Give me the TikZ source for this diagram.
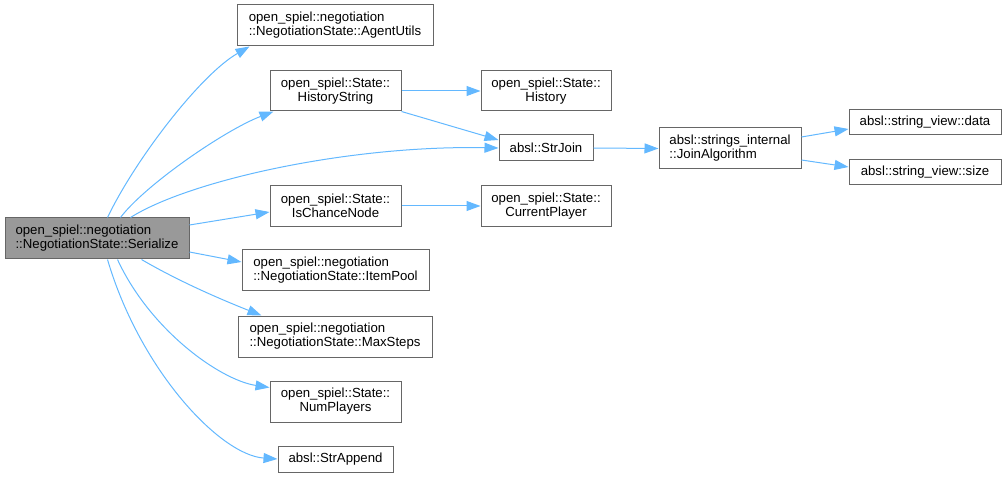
\documentclass[tikz,border=0pt]{standalone}
\usepackage{fontspec}
\setmainfont{Liberation Sans}
\usetikzlibrary{arrows.meta}
\definecolor{edgeblue}{HTML}{63B8FF}
\definecolor{boxgray}{HTML}{666666}
\definecolor{fillgray}{HTML}{999999}
\begin{document}
\begin{tikzpicture}[x=1pt,y=1pt,
  box/.style={draw=boxgray, line width=1pt, fill=white, inner sep=0pt, font=\fontsize{13.2}{14}\selectfont, text=black},
  boxl/.style={box, align=left},
  boxc/.style={box, align=center},
  edge/.style={draw=edgeblue, line width=1pt, -{Triangle[length=14pt,width=10pt]}}]
\useasboundingbox (0,0) rectangle (1006,477);
% nodes
\node[boxl, fill=fillgray, minimum width=184pt, minimum height=41pt] (ser) at (97,238.5) {open\_spiel::negotiation\\::NegotiationState::Serialize};
\node[boxl, minimum width=196pt, minimum height=41pt] (agent) at (335,451.5) {open\_spiel::negotiation\\::NegotiationState::AgentUtils};
\node[boxc, minimum width=131pt, minimum height=40pt] (hist) at (335.5,386) {open\_spiel::State::\\HistoryString};
\node[boxc, minimum width=130pt, minimum height=40pt] (history) at (546,386) {open\_spiel::State::\\History};
\node[boxc, minimum width=94pt, minimum height=26pt] (strjoin) at (546,329) {absl::StrJoin};
\node[boxc, minimum width=131pt, minimum height=41pt] (ischance) at (335.5,271) {open\_spiel::State::\\IsChanceNode};
\node[boxc, minimum width=130pt, minimum height=41pt] (cur) at (546,271) {open\_spiel::State::\\CurrentPlayer};
\node[boxl, minimum width=142pt, minimum height=41pt] (join) at (730,328.5) {absl::strings\_internal\\::JoinAlgorithm};
\node[boxc, minimum width=152pt, minimum height=25pt] (data) at (925,354.5) {absl::string\_view::data};
\node[boxc, minimum width=152pt, minimum height=25pt] (size) at (925,304.5) {absl::string\_view::size};
\node[boxl, minimum width=187pt, minimum height=40pt] (item) at (335.5,207) {open\_spiel::negotiation\\::NegotiationState::ItemPool};
\node[boxl, minimum width=194pt, minimum height=41pt] (max) at (335,140.5) {open\_spiel::negotiation\\::NegotiationState::MaxSteps};
\node[boxc, minimum width=131pt, minimum height=41pt] (nump) at (335.5,75.5) {open\_spiel::State::\\NumPlayers};
\node[boxc, minimum width=115pt, minimum height=26pt] (app) at (335.5,18) {absl::StrAppend};
% edges
\draw[edge] ([xshift=103pt]ser.north west) .. controls (135,317) and (200,402) .. ([xshift=13pt]agent.south west);
\draw[edge] ([xshift=116pt]ser.north west) .. controls (145,292) and (225,347) .. ([xshift=4pt]hist.south west);
\draw[edge] ([xshift=126pt]ser.north west) .. controls (190,297) and (350,332) .. (strjoin.west);
\draw[edge] ([yshift=13.5pt]ser.east) -- ([yshift=-6pt]ischance.west);
\draw[edge] ([yshift=-13.5pt]ser.east) -- ([yshift=8pt]item.west);
\draw[edge] ([xshift=137pt]ser.south west) .. controls (185,192) and (235,172) .. ([xshift=24pt]max.north west);
\draw[edge] ([xshift=113pt]ser.south west) .. controls (150,147) and (220,97) .. ([yshift=-7pt]nump.north west);
\draw[edge] ([xshift=103pt]ser.south west) .. controls (140,107) and (220,22) .. (app.west);
\draw[edge] (hist.east) -- (history.west);
\draw[edge] (hist.south east) -- ([yshift=8pt]strjoin.west);
\draw[edge] (ischance.east) -- (cur.west);
\draw[edge] (strjoin.east) -- (join.west);
\draw[edge] ([yshift=11.5pt]join.east) -- ([yshift=-6.5pt]data.west);
\draw[edge] ([yshift=-11.5pt]join.east) -- ([yshift=5.5pt]size.west);
\end{tikzpicture}
\end{document}
